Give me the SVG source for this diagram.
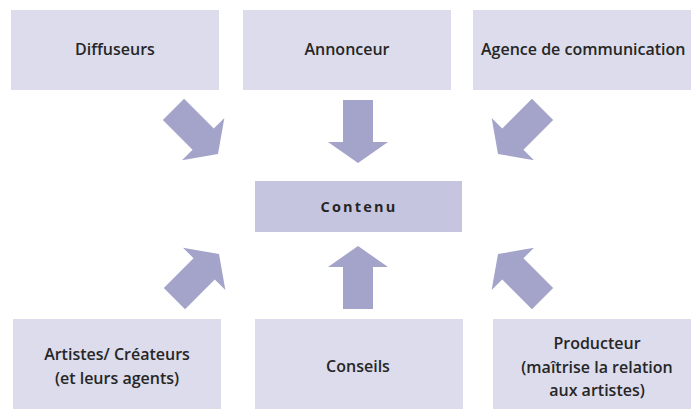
<svg xmlns="http://www.w3.org/2000/svg" width="691" height="409" viewBox="0 0 691 409">
<style>
.box{fill:#dcdcec}
.main{fill:#c6c5df}
.arr{fill:#a4a4ca}
.t{font-family:"Open Sans","Noto Sans",sans-serif;font-weight:600;font-size:16px;fill:#262626;text-anchor:middle}
.c{font-family:"Open Sans","Noto Sans",sans-serif;font-weight:700;font-size:14.5px;fill:#262626;text-anchor:middle;letter-spacing:2.2px}
</style>
<defs>
<path id="a" d="M0 0 L-30 -21 L-15 -21 L-15 -63 L15 -63 L15 -21 L30 -21 Z"/>
</defs>
<rect width="691" height="409" fill="#fff"/>
<g id="diffuseurs"><rect class="box" x="11" y="10" width="208" height="80"/><text class="t" x="115" y="55">Diffuseurs</text></g>
<g id="annonceur"><rect class="box" x="243" y="10" width="208" height="80"/><text class="t" x="347" y="55">Annonceur</text></g>
<g id="agence"><rect class="box" x="473" y="10" width="230" height="80"/><text class="t" x="481" y="55" style="text-anchor:start">Agence de communication</text></g>
<g id="contenu"><rect class="main" x="255" y="181" width="207" height="51"/><text class="c" x="359" y="212">Contenu</text></g>
<g id="artistes"><rect class="box" x="13" y="319" width="208" height="95"/><text class="t" x="117" y="360">Artistes/ Créateurs</text><text class="t" x="117" y="384">(et leurs agents)</text></g>
<g id="conseils"><rect class="box" x="255" y="319" width="208" height="95"/><text class="t" x="358" y="372">Conseils</text></g>
<g id="producteur"><rect class="box" x="493" y="319" width="210" height="95"/><text class="t" x="597" y="349">Producteur</text><text class="t" x="597" y="373">(maîtrise la relation</text><text class="t" x="597" y="396">aux artistes)</text></g>
<g id="connectors" class="arr">
<use href="#a" transform="translate(358 163)"/>
<use href="#a" transform="translate(218 154) rotate(-45)"/>
<use href="#a" transform="translate(498 154) rotate(45)"/>
<use href="#a" transform="translate(358 246) rotate(180)"/>
<use href="#a" transform="translate(219 254) rotate(-135)"/>
<use href="#a" transform="translate(498 254) rotate(135)"/>
</g>
</svg>
